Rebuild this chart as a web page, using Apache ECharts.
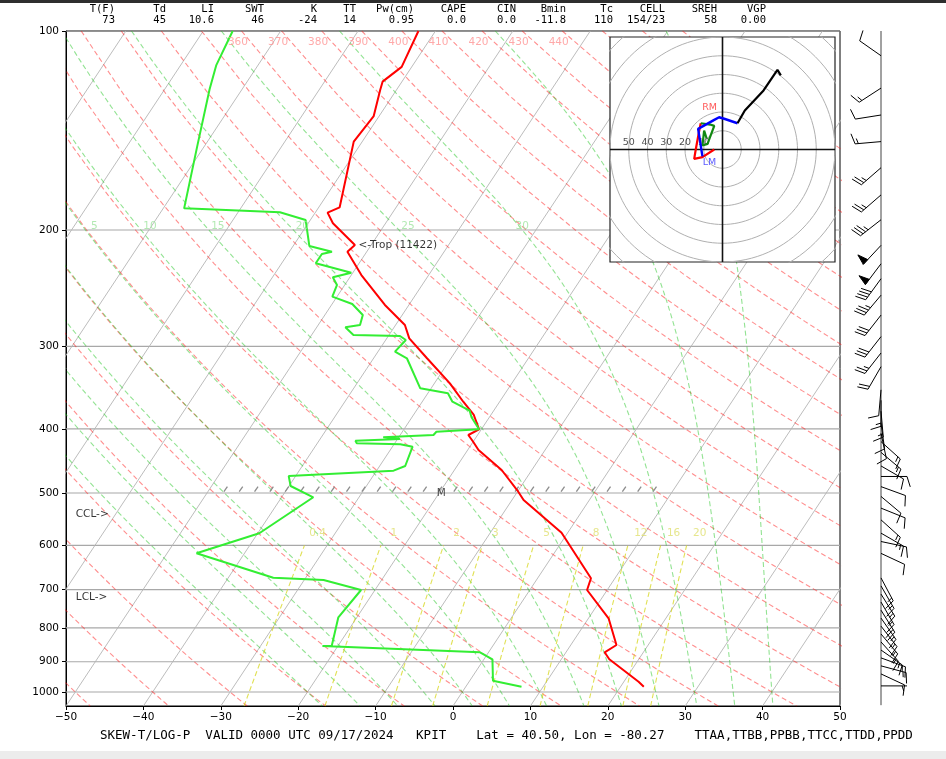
<!DOCTYPE html>
<html><head><meta charset="utf-8">
<script src="https://cdn.jsdelivr.net/npm/echarts@6/dist/echarts.min.js"></script>
<style>html,body{margin:0;padding:0;background:#fff;}#c{width:946px;height:759px;}</style>
</head><body><div id="c"></div>
<script>
// ---------------- DATA ----------------
const tempP = [100,113.3,119.3,122.8,134.5,147,184.8,188.3,195.4,210.8,215.7,234,259.7,278.5,291.7,312.7,341.2,363.8,381,400.5,408.5,418.2,430.4,461.5,497.7,512.3,574.1,672.9,701,773.6,849,870.8,892.3,964.8,981.7];
const tempT = [-62.2,-61.3,-62.5,-62.1,-60.7,-61.1,-57.3,-58.4,-56.8,-52.1,-52.5,-48.7,-43.1,-38.8,-37.1,-33.1,-28.0,-24.7,-22.2,-20.3,-21.2,-20.0,-18.6,-13.9,-9.9,-8.5,-0.8,6.9,7.4,12.6,15.9,15.0,16.2,21.9,23.0];
const dewP = [100,112.6,122.5,149.6,185.5,188.0,193.2,211.5,215.7,217.5,224.6,232.1,235.8,242.2,252.3,258.8,268.9,278.5,280.7,288.3,289.3,293.4,305.6,312.7,347.2,353.3,363.8,375.4,384.1,400.5,403.9,408.5,411.8,414.2,416.7,420.5,421.9,425.5,455.1,462.6,471.2,487.9,507.5,575.3,616.8,671.5,676.9,701,770.9,852,852,870.8,892.3,961.4,981.7];
const dewT = [-86.2,-85.4,-84.2,-80.9,-77.3,-64.6,-60.6,-57.9,-54.5,-55.6,-55.6,-50.2,-52.2,-51.0,-50.6,-47.4,-45.1,-44.6,-46.3,-44.6,-38.5,-37.4,-37.8,-35.7,-31.4,-27.4,-26.1,-23.1,-22.3,-20.3,-25.6,-25.7,-32.0,-29.7,-35.3,-34.9,-29.2,-27.4,-26.7,-27.8,-40.9,-39.8,-35.9,-39.8,-46.2,-34.2,-27.5,-21.8,-22.4,-20.8,-22.0,-1.1,1.1,3.0,7.2];

const windP   = [109,122,134,147,161,177,193,211,225,237,251,269,290,307,322,349,362,376,392,406,418,434,455,472,489,506,527,549,575,592,617,672,691,711,731,752,773,795,817,840,864,888,913,939,979];
const windDir = [305,237,261,265,229,229,232,223,217,216,220,218,218,218,210,185,180,175,172,168,132,130,120,90,110,130,112,132,120,102,115,152,150,148,150,148,145,142,140,138,125,110,105,115,90];
const windSpd = [10,15,10,15,25,25,35,50,50,40,35,30,30,25,20,10,15,15,10,10,15,15,10,10,10,10,10,15,15,10,10,15,15,15,15,20,15,15,15,15,15,15,15,10,5];

const hodoRedU = [-4.4,-10.7,-15.1,-14.2,-12.4,-11.6];
const hodoRedV = [0.0,-4.1,-5.0,0.4,10.1,14.0];
const hodoGreenU = [-11.6,-6.6,-4.4,-8.0,-10.7,-9.8,-8.5];
const hodoGreenV = [14.0,13.3,12.6,3.0,2.1,10.1,6.0];
const hodoBlueU = [-10.7,-13.0,-4.4,-1.8,0.9,8.0];
const hodoBlueV = [-3.7,11.0,15.8,17.2,16.4,14.0];
const hodoBlackU = [8.0,11.9,21.9,29.3,31.1];
const hodoBlackV = [14.0,20.8,31.5,42.5,39.5];
const hodoRings = [10,20,30,40,50,60,70,80,90];
const hodoRingLabels = [50,40,30,20,10];
const stormRM = [-6.9,22.2];
const stormLM = [-6.9,-7.1];

const xTicks = [-50,-40,-30,-20,-10,0,10,20,30,40,50];
const pTicks = [100,200,300,400,500,600,700,800,900,1000];
const isothermT = [-100,-90,-80,-70,-60,-50,-40,-30,-20,-10,0,10,20,30,40,50];
const dryT0 = [-50,-40,-30,-20,-10,0,10,20,30,40,50,60,70,80,90,100,110,120,130,140,150,160,170,180,190,200];
const dryLabels = [360,370,380,390,400,410,420,430,440];
const moistT0 = [-20,-15,-10,-5,0,5,10,15,20,25,30,35,40];
const moistLabels = [5,10,15,20,25,30];
const mixRatios = [0.4,1,2,3,5,8,12,16,20];
const mixLabels = ['0.4','1','2','3','5','8','12','16','20'];

const headerLabels = ['T(F)','Td','LI','SWT','K','TT','Pw(cm)','CAPE','CIN','Bmin','Tc','CELL','SREH','VGP'];
const headerValues = ['73','45','10.6','46','-24','14','0.95','0.0','0.0','-11.8','110','154/23','58','0.00'];
const titleText = 'SKEW-T/LOG-P  VALID 0000 UTC 09/17/2024   KPIT    Lat = 40.50, Lon = -80.27    TTAA,TTBB,PPBB,TTCC,TTDD,PPDD';
const tropP = 210.8, tropText = '<-Trop (11422)';
const cclP = 538, lclP = 718;
const maxLevelP = 500, maxLevelX = -1.5;

// ---------------- GEOMETRY HELPERS ----------------
const P_TOP = 100, P_BOT = 1050, X_MIN = -50, X_MAX = 50, ROT = 30;
const skewFac = Math.tan(ROT*Math.PI/180)*(X_MAX-X_MIN)/Math.log(P_BOT/P_TOP);
const sx = (T,p) => T + skewFac*Math.log(P_BOT/p);
const ly = p => Math.log(p);
const KAPPA = 0.2857;

function esat(tc){ return 6.112*Math.exp(17.67*tc/(tc+243.5)); }
function dTdp(TK,p){
  const Rd=287.04, Cp=1005.7, Lv=2.501e6, eps=0.622;
  const es=esat(TK-273.15), rs=eps*es/(p-es);
  return ((Rd*TK + Lv*rs)/p)/(Cp + Lv*Lv*rs*eps/(Rd*TK*TK));
}
function rk4(T,p,h){
  const k1=dTdp(T,p), k2=dTdp(T+h/2*k1,p+h/2), k3=dTdp(T+h/2*k2,p+h/2), k4=dTdp(T+h*k3,p+h);
  return T + h/6*(k1+2*k2+2*k3+k4);
}
function moistProfile(t0){
  let T=t0+273.15, p=1000; const up=[[T,p]];
  while(p>P_TOP){ const h=Math.max(-5,P_TOP-p); T=rk4(T,p,h); p+=h; up.push([T,p]); }
  T=t0+273.15; p=1000; const down=[];
  while(p<P_BOT){ const h=Math.min(5,P_BOT-p); T=rk4(T,p,h); p+=h; down.push([T,p]); }
  return up.reverse().concat(down);
}
function mixTd(w,p){ const e=p*w/(622+w); const l=Math.log(e/6.112); return 243.5*l/(17.67-l); }

const series = [];
function addLine(data, color, width, type, z, idx){
  series.push({type:'line', xAxisIndex:idx||0, yAxisIndex:idx||0, data, symbol:'none', showSymbol:false,
    lineStyle:{color, width, type:type||'solid'}, silent:true, animation:false, z:z||2, clip:true});
}
function addTexts(items, idx, z){
  series.push({type:'scatter', xAxisIndex:idx||0, yAxisIndex:idx||0, symbolSize:1, silent:true, animation:false, z:z||4,
    itemStyle:{color:'rgba(0,0,0,0)'},
    data: items.map(it=>({value:[it.x,it.y], label:{show:true, formatter:it.text, position:it.pos||'inside', distance:it.dist||0,
      offset:it.off||[0,0], color:it.color||'#000', fontSize:it.fs||10.5, fontFamily:'DejaVu Sans'}}))});
}

// isobars
pTicks.forEach(p => addLine([[X_MIN,ly(p)],[X_MAX,ly(p)]], '#a8a8a8', 1.2, 'solid', 1));
// isotherms
isothermT.forEach(T => addLine([[sx(T,P_BOT),ly(P_BOT)],[sx(T,P_TOP),ly(P_TOP)]], '#b4b4b4', 0.9, 'solid', 1));
// dry adiabats
const pLevels = []; for(let p=P_TOP; p<=P_BOT; p+=25) pLevels.push(p);
dryT0.forEach(t0 => {
  const th=t0+273.15;
  addLine(pLevels.map(p=>[sx(th*Math.pow(p/1000,KAPPA)-273.15,p), ly(p)]), 'rgba(255,30,30,0.5)', 1.1, [5,3], 1);
});
// moist adiabats
const moistAt200 = {};
moistT0.forEach(t0 => {
  const prof = moistProfile(t0);
  addLine(prof.filter((_,i)=>i%2===0 || i===prof.length-1).map(([TK,p])=>[sx(TK-273.15,p), ly(p)]), 'rgba(40,200,40,0.5)', 1.1, [5,3], 1);
  const q = prof.find(a=>Math.abs(a[1]-200)<0.01); if(q) moistAt200[t0]=q[0]-273.15;
});
// mixing ratio lines
const mixP = [1050,1000,950,900,850,800,750,700,650,600];
mixRatios.forEach(w => addLine(mixP.map(p=>[sx(mixTd(w,p),p), ly(p)]), 'rgba(215,215,30,0.75)', 1.1, [5,3], 1));

// profiles
addLine(tempP.map((p,i)=>[sx(tempT[i],p), ly(p)]), '#ff0000', 2, 'solid', 3);
addLine(dewP.map((p,i)=>[sx(dewT[i],p), ly(p)]), '#33ee33', 2, 'solid', 3);

// hatch at max level
const hatchX = []; for(let x=-29.6; x<=26.5; x+=1.98) hatchX.push(x);
series.push({type:'custom', xAxisIndex:0, yAxisIndex:0, silent:true, animation:false, z:2,
  data: hatchX.map(x=>[x, ly(maxLevelP)]),
  renderItem:(params,api)=>{ const c=api.coord([api.value(0),api.value(1)]);
    return {type:'line', shape:{x1:c[0],y1:c[1]-1.5,x2:c[0]+3.5,y2:c[1]-6.5}, style:{stroke:'#8c8c8c',lineWidth:1.3}}; }});

// labels on main diagram
const txt = [];
dryLabels.forEach(th => txt.push({x:sx(th*Math.pow(P_TOP/1000,KAPPA)-273.15,P_TOP), y:ly(P_TOP), text:String(th), off:[9,11], color:'#ff9494'}));
moistLabels.forEach(t0 => { if(moistAt200[t0]!==undefined) txt.push({x:sx(moistAt200[t0],200), y:ly(200), text:String(t0), off:[t0===30?0:9,-4], color:'#9fe39f'}); });
mixRatios.forEach((w,i) => txt.push({x:sx(mixTd(w,600),600), y:ly(600), text:mixLabels[i], off:[13,-12], color:'#e0e070'}));
const tropIdx = tempP.indexOf(tropP);
txt.push({x:sx(tempT[tropIdx],tropP), y:ly(tropP), text:tropText, pos:'right', dist:3, color:'#000'});
txt.push({x:-48.8, y:ly(cclP), text:'CCL->', pos:'right', dist:0});
txt.push({x:-48.8, y:ly(lclP), text:'LCL->', pos:'right', dist:0});
txt.push({x:maxLevelX, y:ly(maxLevelP), text:'M', color:'#222'});
addTexts(txt, 0, 4);

// wind barbs panel (grid 1)
const STATION_X = 40;
addLine([[STATION_X, ly(P_TOP)],[STATION_X, ly(1047)]], '#444', 1, 'solid', 3, 1);
function barbShapes(cx, cy, dir, spd){
  const L=26, sp=0.125*L, hgt=0.4*L, wid=0.25*L;
  const r=Math.round(spd/5)*5;
  let nflags=Math.floor(r/50), rem=r-nflags*50, nbarbs=Math.floor(rem/10), half=(rem-nbarbs*10)>=5;
  const d=dir*Math.PI/180, s=[Math.sin(d),-Math.cos(d)], n=[Math.cos(d),Math.sin(d)];
  const P=(t,h)=>[cx+t*s[0]+h*n[0], cy+t*s[1]+h*n[1]];
  const ch=[{type:'polyline', shape:{points:[P(0,0),P(L,0)]}, style:{stroke:'#000',lineWidth:1,fill:null}}];
  let off=L;
  for(let i=0;i<nflags;i++){ if(off!==L) off+=sp/2;
    ch.push({type:'polygon', shape:{points:[P(off,0),P(off-wid/2,hgt),P(off-wid,0)]}, style:{fill:'#000',stroke:'#000',lineWidth:1}});
    off-=wid+sp; }
  for(let i=0;i<nbarbs;i++){ ch.push({type:'polyline', shape:{points:[P(off,0),P(off+wid/2,hgt)]}, style:{stroke:'#000',lineWidth:1,fill:null}}); off-=sp; }
  if(half){ if(off===L) off-=1.5*sp; ch.push({type:'polyline', shape:{points:[P(off,0),P(off+wid/4,hgt/2)]}, style:{stroke:'#000',lineWidth:1,fill:null}}); }
  return ch;
}
series.push({type:'custom', xAxisIndex:1, yAxisIndex:1, silent:true, animation:false, z:5,
  data: windP.map((p,i)=>[STATION_X, ly(p), windDir[i], windSpd[i]]),
  renderItem:(params,api)=>{ const c=api.coord([api.value(0),api.value(1)]);
    return {type:'group', children:barbShapes(c[0],c[1],api.value(2),api.value(3))}; }});

// hodograph (grid 2)
const ringPts = r => { const a=[]; for(let k=0;k<=120;k++){ const t=k/120*2*Math.PI; a.push([r*Math.cos(t), r*Math.sin(t)]);} return a; };
hodoRings.forEach(r => addLine(ringPts(r), '#b0b0b0', 1, 'solid', 11, 2));
addLine([[-60,0],[60,0]], '#111', 1.6, 'solid', 12, 2);
addLine([[0,-60],[0,60]], '#111', 1.6, 'solid', 12, 2);
addTexts(hodoRingLabels.map(r=>({x:-r, y:0, text:String(r), off:[0,-7], color:'#222', fs:9.5})), 2, 13);
addLine(hodoRedU.map((u,i)=>[u,hodoRedV[i]]), '#ff0000', 2.2, 'solid', 14, 2);
addLine(hodoGreenU.map((u,i)=>[u,hodoGreenV[i]]), '#118811', 2.2, 'solid', 14, 2);
addLine(hodoBlueU.map((u,i)=>[u,hodoBlueV[i]]), '#0000ff', 2.4, 'solid', 14, 2);
addLine(hodoBlackU.map((u,i)=>[u,hodoBlackV[i]]), '#000000', 2.2, 'solid', 14, 2);
addTexts([{x:stormRM[0], y:stormRM[1], text:'RM', color:'#ff3030', fs:9.5},{x:stormLM[0], y:stormLM[1], text:'LM', color:'#3030ff', fs:9.5}], 2, 15);

// ---------------- OPTION ----------------
const fmtMinus = v => String(v).replace('-', '\u2212');
const option = {
  animation:false,
  backgroundColor:'#fff',
  textStyle:{fontFamily:'DejaVu Sans'},
  grid:[
    {left:66, top:31, width:774, height:675, show:true, borderColor:'#000', borderWidth:1, backgroundColor:'transparent'},
    {left:841, top:31, width:105, height:675, show:false},
    {left:610, top:37, width:225, height:225, show:true, backgroundColor:'#fff', borderColor:'#222', borderWidth:1.2, z:10}
  ],
  xAxis:[
    {type:'value', gridIndex:0, min:X_MIN, max:X_MAX, interval:10,
      axisLine:{show:true, onZero:false, lineStyle:{color:'#000', width:1}},
      axisTick:{show:true, length:4, lineStyle:{color:'#000'}},
      axisLabel:{color:'#000', fontSize:10.5, fontFamily:'DejaVu Sans', margin:6, formatter:fmtMinus},
      splitLine:{show:false}},
    {type:'value', gridIndex:1, min:0, max:105, show:false},
    {type:'value', gridIndex:2, min:-60, max:60, show:false}
  ],
  yAxis:[
    {type:'value', gridIndex:0, inverse:true, min:ly(P_TOP), max:ly(P_BOT),
      axisLine:{show:true, onZero:false, lineStyle:{color:'#000', width:1}},
      axisTick:{show:true, length:4, customValues:pTicks.map(ly), lineStyle:{color:'#000'}},
      axisLabel:{customValues:pTicks.map(ly), color:'#000', fontSize:10.5, fontFamily:'DejaVu Sans', margin:7,
        formatter:v=>String(Math.round(Math.exp(v)))},
      splitLine:{show:false}},
    {type:'value', gridIndex:1, inverse:true, min:ly(P_TOP), max:ly(P_BOT), show:false},
    {type:'value', gridIndex:2, min:-60, max:60, show:false}
  ],
  graphic:[
    {type:'rect', shape:{x:0,y:0,width:946,height:3}, style:{fill:'#2e2e2e'}, z:100},
    {type:'rect', shape:{x:0,y:751,width:946,height:8}, style:{fill:'#ececec'}, z:100},
    {type:'text', x:100, y:736, style:{text:titleText, fill:'#000', font:'12.5px "DejaVu Sans Mono"', align:'left', verticalAlign:'middle'}, z:100}
  ],
  series
};
const headerEnds = [115,166,214,264,317,356,414,466,516,566,613,665,717,766];
headerLabels.forEach((t,i)=>{
  option.graphic.push({type:'text', x:headerEnds[i], y:9.5, style:{text:t, fill:'#000', font:'10.5px "DejaVu Sans Mono"', align:'right', verticalAlign:'middle'}, z:100});
  option.graphic.push({type:'text', x:headerEnds[i], y:20.5, style:{text:headerValues[i], fill:'#000', font:'10.5px "DejaVu Sans Mono"', align:'right', verticalAlign:'middle'}, z:100});
});
const chart = echarts.init(document.getElementById('c'), null, {renderer:'canvas'});
chart.setOption(option);
</script>
</body></html>
